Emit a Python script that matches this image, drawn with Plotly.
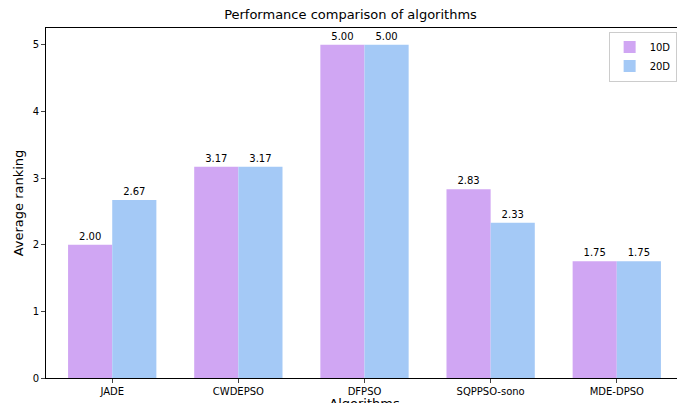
import plotly.graph_objects as go

categories = ["JADE", "CWDEPSO", "DFPSO", "SQPPSO-sono", "MDE-DPSO"]
vals_10d = [2.00, 3.17, 5.00, 2.83, 1.75]
vals_20d = [2.67, 3.17, 5.00, 2.33, 1.75]

fig = go.Figure()
fig.add_bar(x=categories, y=vals_10d, name="10D", marker_color="#d0a6f3",
            text=[f"{v:.2f}" for v in vals_10d], textposition="outside", cliponaxis=False)
fig.add_bar(x=categories, y=vals_20d, name="20D", marker_color="#a4c9f6",
            text=[f"{v:.2f}" for v in vals_20d], textposition="outside", cliponaxis=False)
fig.update_traces(textfont=dict(size=10, color="black"), marker_line_width=0)
fig.update_layout(
    width=685, height=403, barmode="group", bargap=0.3, bargroupgap=0,
    plot_bgcolor="white", paper_bgcolor="white",
    font=dict(family="DejaVu Sans", size=11, color="black"),
    margin=dict(l=38, r=10, t=20, b=33, autoexpand=False),
    title=dict(text="Performance comparison of algorithms", x=0.5, xanchor="center", y=0.995, yanchor="top", font=dict(size=13)),
    legend=dict(x=0.99, y=0.99, xanchor="right", yanchor="top", bordercolor="#cccccc", borderwidth=1,
                font=dict(size=10), itemwidth=30, tracegroupgap=0),
    xaxis=dict(title=dict(text="Algorithms", standoff=0), showline=True, linecolor="black", mirror=True, automargin=False,
               ticks="outside", ticklen=4, range=[-0.525, 4.525], tickfont=dict(size=10)),
    yaxis=dict(title=dict(text="Average ranking", standoff=6), showline=True, linecolor="black", mirror=True, automargin=False,
               ticks="outside", ticklen=4, range=[0, 5.25], dtick=1, showgrid=False, zeroline=False, tickfont=dict(size=10)),
)
fig.write_html("out.html")
